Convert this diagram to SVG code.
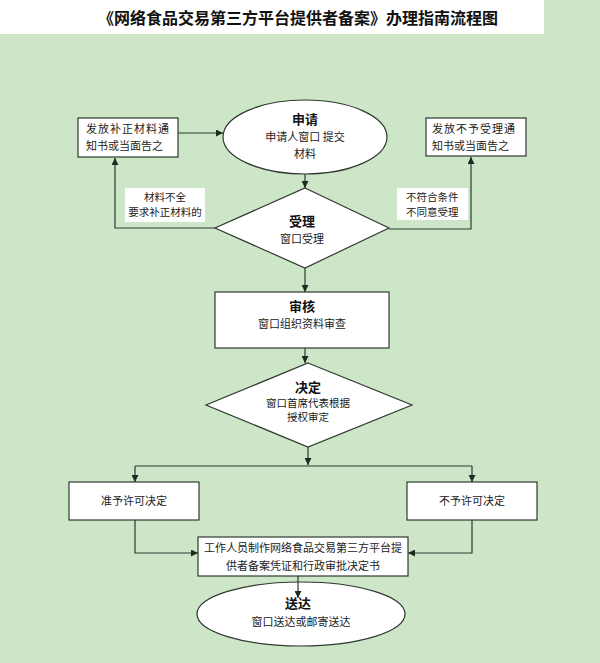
<svg xmlns="http://www.w3.org/2000/svg" width="600" height="663" viewBox="0 0 600 663">
<defs>
<marker id="ah" viewBox="0 0 8 8" refX="8" refY="4" markerWidth="7" markerHeight="7" markerUnits="userSpaceOnUse" orient="auto"><path d="M0,0 L8,4 L0,8 z" fill="#1e2a1e"/></marker>
</defs>
<style>
.bg{fill:#cde6c8}
.shape{fill:#ffffff;stroke:#2f3a2f;stroke-width:1.2}
.c{fill:none;stroke:#2f3a2f;stroke-width:1.2}
.t{font-family:"Noto Sans CJK SC","Noto Sans",sans-serif;font-size:11px;fill:#222}
.s{font-size:10.5px}
.b{font-family:"Noto Sans CJK SC","Noto Sans",sans-serif;font-size:13px;font-weight:bold;fill:#111}
.m{text-anchor:middle}
</style>
<rect class="bg" x="0" y="0" width="600" height="663"/>
<g id="title">
<rect x="0" y="0" width="544" height="34" fill="#ffffff"/>
<text x="298" y="24" class="m" font-family="'Noto Sans CJK SC',sans-serif" font-size="16" font-weight="bold" fill="#111">《网络食品交易第三方平台提供者备案》办理指南流程图</text>
</g>
<g id="apply">
<ellipse class="shape" cx="305" cy="137" rx="82" ry="37"/>
<text class="b m" x="305" y="124">申请</text>
<text class="t m" x="305" y="141" font-size="12">申请人窗口 提交</text>
<text class="t m" x="305" y="158">材料</text>
</g>
<g id="supplement">
<rect class="shape" x="78" y="118" width="100" height="39"/>
<text class="t" x="86" y="133" letter-spacing="1">发放补正材料通</text>
<text class="t" x="86" y="150">知书或当面告之</text>
</g>
<g id="reject-notice">
<rect class="shape" x="426" y="118" width="100" height="38"/>
<text class="t" x="432" y="133" letter-spacing="1">发放不予受理通</text>
<text class="t" x="432" y="150">知书或当面告之</text>
</g>
<g id="accept">
<polygon class="shape" points="305,188 389,228 305,268 215,228"/>
<text class="b m" x="302" y="226">受理</text>
<text class="t m" x="302" y="243">窗口受理</text>
</g>
<g id="review">
<rect class="shape" x="215" y="292" width="174" height="56"/>
<text class="b m" x="302" y="311">审核</text>
<text class="t m" x="302" y="328" font-size="12">窗口组织资料审查</text>
</g>
<g id="decide">
<polygon class="shape" points="308,363 412,405 308,447 206,405"/>
<text class="b m" x="308" y="392">决定</text>
<text class="t m s" x="308" y="407">窗口首席代表根据</text>
<text class="t m s" x="308" y="421">授权审定</text>
</g>
<g id="grant">
<rect class="shape" x="69" y="482" width="130" height="38"/>
<text class="t m" x="134" y="505">准予许可决定</text>
</g>
<g id="deny">
<rect class="shape" x="407" y="482" width="130" height="38"/>
<text class="t m" x="472" y="505">不予许可决定</text>
</g>
<g id="produce">
<rect class="shape" x="198" y="537" width="210" height="39"/>
<text class="t m" x="303" y="552">工作人员制作网络食品交易第三方平台提</text>
<text class="t m" x="303" y="570">供者备案凭证和行政审批决定书</text>
</g>
<g id="deliver">
<ellipse class="shape" cx="301" cy="614" rx="104" ry="32"/>
<text class="b m" x="298" y="608">送达</text>
<text class="t m" x="301" y="626" font-size="12">窗口送达或邮寄送达</text>
</g>
<g id="connectors">
<path class="c" d="M178,133 L223,133" marker-end="url(#ah)"/>
<path class="c" d="M305,174 L305,188" marker-end="url(#ah)"/>
<path class="c" d="M215,228 L115,228 L115,158" marker-end="url(#ah)"/>
<path class="c" d="M389,229 L471,229 L471,157" marker-end="url(#ah)"/>
<path class="c" d="M305,268 L305,292" marker-end="url(#ah)"/>
<path class="c" d="M305,348 L305,363" marker-end="url(#ah)"/>
<path class="c" d="M308,447 L308,465" marker-end="url(#ah)"/>
<path class="c" d="M135,466 L472,466"/>
<path class="c" d="M135,466 L135,482" marker-end="url(#ah)"/>
<path class="c" d="M472,466 L472,482" marker-end="url(#ah)"/>
<path class="c" d="M135,520 L135,553 L198,553" marker-end="url(#ah)"/>
<path class="c" d="M472,520 L472,553 L408,553" marker-end="url(#ah)"/>
<path class="c" d="M298,576 L298,598" marker-end="url(#ah)"/>
<g id="label-left">
<rect x="125" y="188" width="80" height="34" fill="#ffffff"/>
<text class="t m s" x="165" y="201">材料不全</text>
<text class="t m s" x="165" y="216">要求补正材料的</text>
</g>
<g id="label-right">
<rect x="397" y="188" width="71" height="32" fill="#ffffff"/>
<text class="t s" x="406" y="201">不符合条件</text>
<text class="t s" x="406" y="216">不同意受理</text>
</g>
</g>
</svg>
